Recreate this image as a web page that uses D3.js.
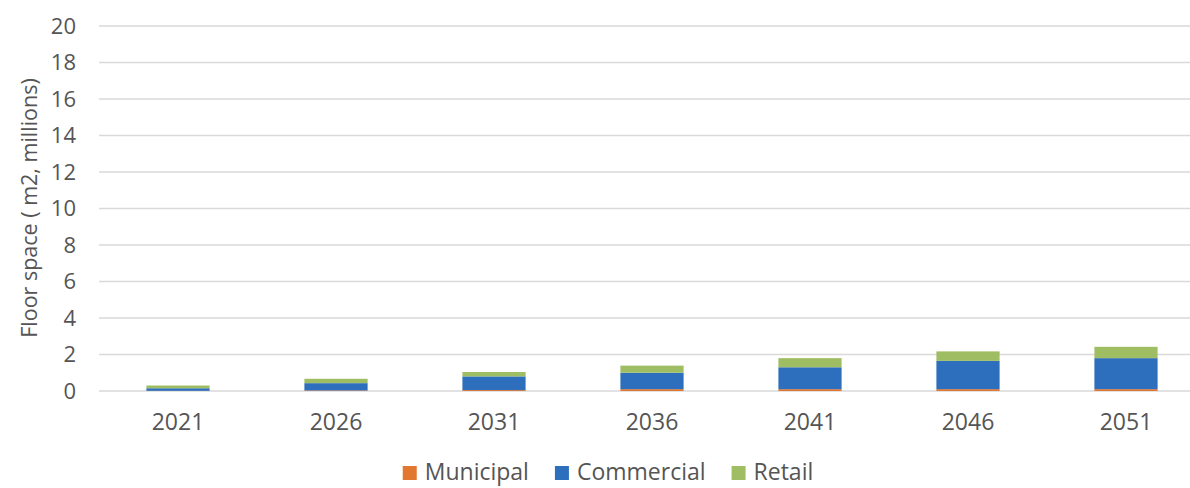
<!DOCTYPE html>
<html>
<head>
<meta charset="utf-8">
<script src="https://cdn.jsdelivr.net/npm/d3@7"></script>
<style>
  html, body { margin: 0; padding: 0; background: #fff; }
  svg { display: block; font-family: 'Open Sans', sans-serif; }
</style>
</head>
<body>
<div id="chart"></div>
<script>
const years = ['2021', '2026', '2031', '2036', '2041', '2046', '2051'];
const municipal = [0.01, 0.03, 0.05, 0.1, 0.1, 0.1, 0.1];
const commercial = [0.14, 0.4, 0.75, 0.9, 1.2, 1.55, 1.7];
const retail = [0.15, 0.24, 0.24, 0.39, 0.5, 0.52, 0.62];
const seriesNames = ['Municipal', 'Commercial', 'Retail'];
const yTicks = [0, 2, 4, 6, 8, 10, 12, 14, 16, 18, 20];

const colors = { Municipal: '#e2772f', Commercial: '#2e6fbd', Retail: '#9fbd62' };
const textColor = '#555555';

const width = 1190;
const height = 488;

const rows = years.map((y, i) => ({
  year: y,
  Municipal: municipal[i],
  Commercial: commercial[i],
  Retail: retail[i],
}));

const svg = d3.select('#chart')
  .append('svg')
  .attr('width', width)
  .attr('height', height);

const x = d3.scaleBand()
  .domain(years)
  .range([99, 1205])
  .paddingInner(0.6)
  .paddingOuter(0.3);

const y = d3.scaleLinear()
  .domain([0, 20])
  .range([391, 26]);

// gridlines
svg.append('g')
  .selectAll('line')
  .data(yTicks)
  .enter()
  .append('line')
  .attr('x1', 99)
  .attr('x2', 1205)
  .attr('y1', (d) => y(d))
  .attr('y2', (d) => y(d))
  .attr('stroke', '#d9d9d9')
  .attr('stroke-width', 1.6);

// y axis labels
const yAxis = svg.append('g')
  .attr('transform', 'translate(76,0)')
  .call(d3.axisLeft(y).tickValues(yTicks).tickSize(0).tickPadding(0));
yAxis.select('.domain').remove();
yAxis.selectAll('text')
  .attr('font-family', "'Open Sans', sans-serif")
  .attr('font-size', '22px')
  .attr('fill', textColor);

// x axis labels
const xAxis = svg.append('g')
  .attr('transform', 'translate(0,414)')
  .call(d3.axisBottom(x).tickSize(0).tickPadding(0));
xAxis.select('.domain').remove();
xAxis.selectAll('text')
  .attr('font-family', "'Open Sans', sans-serif")
  .attr('font-size', '23px')
  .attr('fill', textColor);

// stacked bars
const stacked = d3.stack().keys(seriesNames)(rows);

svg.append('g')
  .selectAll('g')
  .data(stacked)
  .enter()
  .append('g')
  .attr('fill', (d) => colors[d.key])
  .selectAll('rect')
  .data((d) => d)
  .enter()
  .append('rect')
  .attr('x', (d) => x(d.data.year))
  .attr('width', x.bandwidth())
  .attr('y', (d) => y(d[1]))
  .attr('height', (d) => y(d[0]) - y(d[1]));

// y axis title
svg.append('text')
  .attr('transform', 'translate(37,208) rotate(-90)')
  .attr('text-anchor', 'middle')
  .attr('font-size', '21.5px')
  .attr('fill', textColor)
  .text('Floor space ( m2, millions)');

// legend
const legend = svg.append('g');
const items = legend.selectAll('g')
  .data(seriesNames)
  .enter()
  .append('g');

items.append('rect')
  .attr('width', 14)
  .attr('height', 14)
  .attr('y', 466)
  .attr('fill', (d) => colors[d]);

items.append('text')
  .attr('x', 22)
  .attr('y', 480)
  .attr('font-size', '23px')
  .attr('fill', textColor)
  .text((d) => d);

let offset = 0;
items.each(function () {
  const w = 22 + d3.select(this).select('text').node().getComputedTextLength();
  d3.select(this).attr('transform', `translate(${offset},0)`);
  offset += w + 26;
});
const legendWidth = offset - 26;
legend.attr('transform', `translate(${608 - legendWidth / 2},0)`);
</script>
</body>
</html>
